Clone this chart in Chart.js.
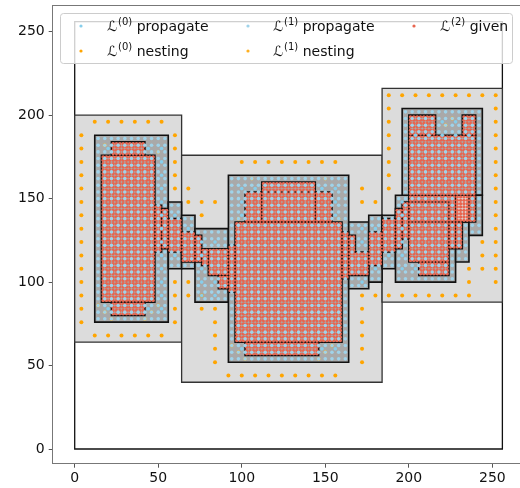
<!DOCTYPE html>
<html>
<head>
<meta charset="utf-8">
<script src="https://cdn.jsdelivr.net/npm/chart.js@4/dist/chart.umd.min.js"></script>
<style>
  html, body { margin: 0; padding: 0; background: #fff; overflow: hidden; }
  #wrap { width: 540px; height: 488px; }
</style>
</head>
<body>
<div id="wrap"><canvas id="amrChart" width="540" height="488"></canvas></div>
<script>
// Boxes as [x0, x1, y0, y1]
var domainBox = [0, 256, 0, 256];

var level0Boxes = [
  [0, 64, 64, 200],
  [64, 184, 40, 176],
  [184, 256, 88, 216]
];

var level1Boxes = [
  [12, 56, 76, 188],
  [56, 64, 108, 148],
  [64, 72, 108, 140],
  [72, 92, 88, 132],
  [92, 164, 52, 164],
  [164, 176, 96, 136],
  [176, 184, 100, 140],
  [184, 192, 108, 140],
  [192, 228, 100, 152],
  [196, 244, 152, 204],
  [228, 236, 112, 136],
  [236, 244, 128, 152]
];

var level2Boxes = [
  [22, 42, 176, 184], [16, 48, 88, 176], [22, 42, 80, 88],
  [48, 52, 118, 146], [52, 56, 120, 144], [56, 64, 118, 138],
  [64, 72, 112, 130], [72, 76, 112, 128], [76, 80, 110, 120],
  [80, 92, 104, 120], [86, 92, 96, 104],
  [92, 96, 94, 122], [102, 154, 136, 154], [112, 144, 136, 160],
  [96, 160, 64, 136], [102, 146, 56, 64], [160, 164, 102, 130],
  [164, 168, 118, 128], [164, 176, 104, 118], [176, 184, 110, 130],
  [184, 192, 118, 138], [192, 196, 120, 144], [196, 200, 126, 148],
  [200, 240, 136, 188], [200, 216, 188, 200], [232, 240, 188, 200],
  [200, 224, 112, 148], [206, 224, 104, 112], [224, 232, 120, 136]
];

// lattice runs [x0, x1, y0, y1] of nesting points
var level0NestRuns = [
  [12, 52, 196, 196], [12, 52, 68, 68], [4, 4, 76, 188], [60, 60, 76, 100], [60, 60, 156, 188],
  [100, 156, 172, 172], [68, 68, 148, 156], [76, 84, 148, 148], [76, 76, 140, 140],
  [68, 68, 92, 100], [76, 76, 84, 92], [84, 84, 52, 84], [92, 156, 44, 44],
  [172, 172, 148, 156], [180, 180, 148, 148], [172, 172, 52, 92], [180, 180, 92, 92],
  [188, 252, 212, 212], [188, 188, 156, 204], [252, 252, 100, 204], [188, 236, 92, 92],
  [236, 236, 100, 108], [244, 244, 108, 124]
];
var level1NestPts = [
  [18, 182], [50, 178], [18, 82], [46, 82], [14, 86], [50, 86], [22, 78], [42, 78],
  [106, 162], [98, 138], [94, 62], [98, 58], [102, 54], [146, 54], [150, 58], [154, 62], [158, 138], [150, 162],
  [222, 194], [226, 198]
];

var seriesLevels = [0, 0, 1, 1, 2];
var seriesWords = ['propagate', 'nesting', 'propagate', 'nesting', 'given'];
var seriesColors = ['#87ceeb', '#ffa500', '#9fd3ea', '#ffb020', '#e8654f'];
var xTicks = [0, 50, 100, 150, 200, 250];
var yTicks = [0, 50, 100, 150, 200, 250];

function inside(box, x, y) {
  return x > box[0] && x < box[1] && y > box[2] && y < box[3];
}

function inAny(boxes, x, y) {
  return boxes.some(function(b) { return inside(b, x, y); });
}

// cell centres of a level (offset, spacing) that fall in the boxes
function cellsIn(boxes, offset, step, skipBoxes) {
  var pts = [];
  for (var x = offset; x < 256; x += step) {
    for (var y = offset; y < 256; y += step) {
      if (inAny(boxes, x, y) && !(skipBoxes && inAny(skipBoxes, x, y)))
        pts.push({x: x, y: y});
    }
  }
  return pts;
}

function runPoints(runs, step) {
  var pts = [];
  runs.forEach(function(r) {
    for (var x = r[0]; x <= r[1]; x += step)
      for (var y = r[2]; y <= r[3]; y += step)
        pts.push({x: x, y: y});
  });
  return pts;
}

var seriesData = [
  cellsIn(level1Boxes, 4, 8, level2Boxes),
  runPoints(level0NestRuns, 8),
  cellsIn(level1Boxes, 2, 4),
  level1NestPts.map(function(p) { return {x: p[0], y: p[1]}; }),
  cellsIn(level2Boxes, 1, 2)
];
var seriesRadius = [1.8, 2.0, 1.8, 1.9, 1.65];

function pathBox(ctx, xs, ys, b) {
  var x0 = xs.getPixelForValue(b[0]), x1 = xs.getPixelForValue(b[1]);
  var y0 = ys.getPixelForValue(b[2]), y1 = ys.getPixelForValue(b[3]);
  ctx.beginPath();
  ctx.rect(x0, y1, x1 - x0, y0 - y1);
}

// Boxes under the points, legend on top
var boxPlugin = {
  id: 'boxes',
  beforeDatasetsDraw: function(chart) {
    var ctx = chart.ctx, xs = chart.scales.x, ys = chart.scales.y;
    ctx.save();
    pathBox(ctx, xs, ys, domainBox);
    ctx.strokeStyle = '#111';
    ctx.lineWidth = 1.3;
    ctx.stroke();
    level0Boxes.forEach(function(b) {
      pathBox(ctx, xs, ys, b);
      ctx.fillStyle = '#dcdcdc';
      ctx.fill();
      ctx.strokeStyle = '#333';
      ctx.lineWidth = 1.3;
      ctx.stroke();
    });
    level1Boxes.forEach(function(b) {
      pathBox(ctx, xs, ys, b);
      ctx.fillStyle = '#a9a9a9';
      ctx.fill();
      ctx.strokeStyle = '#111';
      ctx.lineWidth = 1.6;
      ctx.stroke();
    });
    level2Boxes.forEach(function(b) {
      pathBox(ctx, xs, ys, b);
      ctx.strokeStyle = '#111';
      ctx.lineWidth = 1.6;
      ctx.stroke();
    });
    ctx.restore();
  },
  afterDraw: function(chart) {
    var ctx = chart.ctx, a = chart.chartArea;
    ctx.save();
    ctx.strokeStyle = '#777';
    ctx.lineWidth = 1;
    ctx.beginPath();
    ctx.moveTo(a.left, a.top + 0.5);
    ctx.lineTo(a.right, a.top + 0.5);
    ctx.stroke();

    ctx.beginPath();
    ctx.roundRect(60.5, 13.5, 452, 50, 3);
    ctx.fillStyle = 'rgba(255,255,255,0.8)';
    ctx.fill();
    ctx.strokeStyle = '#cccccc';
    ctx.stroke();
    var markX = [81, 248, 414], textX = [107, 273, 440], rowY = [26, 51];
    for (var i = 0; i < 5; i++) {
      var col = Math.floor(i / 2), row = i % 2;
      ctx.beginPath();
      ctx.arc(markX[col], rowY[row], 1.6, 0, Math.PI * 2);
      ctx.fillStyle = seriesColors[i];
      ctx.fill();
      var x = textX[col], y = rowY[row] + 5;
      ctx.fillStyle = '#111';
      ctx.textBaseline = 'alphabetic';
      ctx.font = '14px "DejaVu Sans"';
      ctx.fillText('\u2112', x, y);
      x += ctx.measureText('\u2112').width + 1;
      ctx.font = '10px "DejaVu Sans"';
      var sup = '(' + seriesLevels[i] + ')';
      ctx.fillText(sup, x, y - 6);
      x += ctx.measureText(sup).width;
      ctx.font = '14px "DejaVu Sans"';
      ctx.fillText(' ' + seriesWords[i], x, y);
    }
    ctx.restore();
  }
};

var datasets = seriesData.map(function(d, i) {
  return {
    label: 'L' + seriesLevels[i] + ' ' + seriesWords[i],
    data: d,
    backgroundColor: seriesColors[i],
    borderWidth: 0,
    pointRadius: seriesRadius[i],
    pointHoverRadius: seriesRadius[i]
  };
});

var ctx = document.getElementById('amrChart').getContext('2d');
var amrChart = new Chart(ctx, {
  type: 'scatter',
  data: { datasets: datasets },
  options: {
    responsive: false,
    animation: false,
    events: [],
    layout: { padding: { top: 5, right: 16.4, left: 0, bottom: 0 } },
    plugins: {
      legend: { display: false },
      tooltip: { enabled: false }
    },
    scales: {
      x: {
        type: 'linear',
        min: -13.17,
        max: 268.7,
        afterFit: function(s) { s.height = 24.3; },
        afterBuildTicks: function(s) { s.ticks = xTicks.map(function(v) { return {value: v}; }); },
        grid: { drawOnChartArea: false, tickLength: 4, color: '#555' },
        border: { color: '#777', width: 1 },
        ticks: { color: '#111', padding: 2, font: { family: 'DejaVu Sans', size: 14 } }
      },
      y: {
        type: 'linear',
        min: -8.8,
        max: 266.0,
        afterFit: function(s) { s.width = 52.7; s.paddingTop = 0; s.paddingBottom = 0; },
        afterBuildTicks: function(s) { s.ticks = yTicks.map(function(v) { return {value: v}; }); },
        grid: { drawOnChartArea: false, tickLength: 4, color: '#555' },
        border: { color: '#777', width: 1 },
        ticks: { color: '#111', padding: 4, font: { family: 'DejaVu Sans', size: 14, lineHeight: 0.3 } }
      }
    }
  },
  plugins: [boxPlugin]
});
</script>
</body>
</html>
